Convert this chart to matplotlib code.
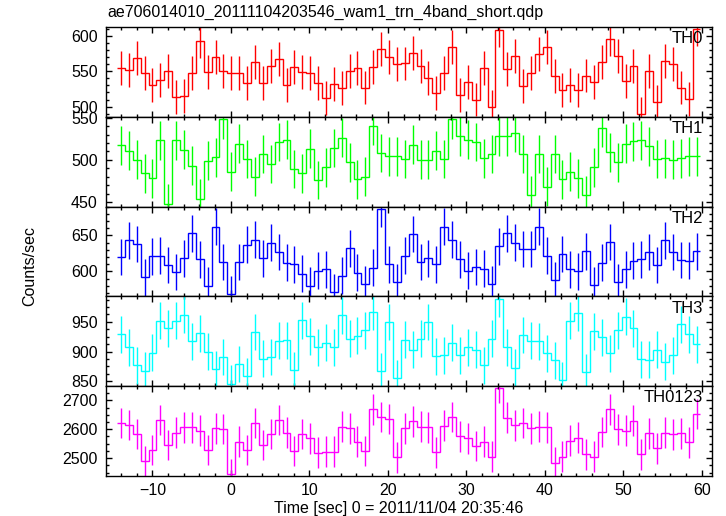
"""
Light curve plot of the WAM 4 band data (TH0..TH3 and their sum),
drawn as stacked step panels with error bars.
"""

import numpy as np
import matplotlib
matplotlib.use('Agg')
import matplotlib.pyplot as plt
from matplotlib.ticker import MultipleLocator

# time axis: bin centres start at -14 s, ~1 s bins
T_START = -14.0
T_STEP = 1.0045

th0 = [555, 552, 569, 547, 531, 537, 550, 514, 515, 547, 593, 549, 570, 550, 547, 547, 533, 563, 533,
       557, 567, 531, 556, 549, 548, 533, 512, 532, 526, 551, 555, 527, 556, 581, 570, 560, 561,
       576, 557, 540, 519, 547, 584, 516, 535, 510, 555, 500, 609, 553, 571, 529, 548, 574, 584,
       543, 524, 530, 523, 544, 535, 563, 595, 572, 536, 558, 489, 551, 507, 565, 560, 527, 511, 610]
th1 = [517, 511, 500, 484, 478, 523, 448, 523, 512, 493, 454, 499, 503, 548, 486, 519, 501, 480, 507,
       495, 521, 524, 489, 484, 513, 476, 491, 514, 526, 497, 477, 480, 540, 508, 504, 504, 501,
       518, 500, 500, 511, 501, 548, 528, 524, 521, 502, 507, 528, 528, 532, 507, 458, 507, 468,
       507, 477, 486, 478, 458, 491, 538, 509, 497, 519, 522, 523, 516, 501, 502, 500, 502, 504, 504]
th2 = [620, 643, 638, 592, 621, 622, 609, 599, 618, 653, 617, 580, 662, 613, 568, 613, 637, 644, 618,
       640, 627, 612, 610, 597, 580, 601, 603, 571, 594, 632, 598, 582, 605, 687, 610, 585, 622,
       652, 613, 618, 610, 662, 644, 617, 601, 606, 604, 582, 635, 653, 640, 631, 631, 662, 622,
       588, 624, 603, 600, 628, 581, 612, 641, 585, 603, 615, 617, 627, 609, 643, 627, 616, 615, 628]
th3 = [929, 907, 877, 868, 898, 952, 939, 952, 962, 917, 931, 900, 870, 891, 846, 879, 858, 933, 888,
       891, 918, 919, 869, 953, 926, 907, 915, 907, 961, 922, 927, 936, 967, 867, 950, 855, 920,
       903, 922, 950, 892, 894, 915, 894, 907, 903, 877, 922, 989, 907, 873, 928, 918, 917, 897,
       885, 852, 952, 965, 865, 934, 924, 897, 936, 959, 939, 887, 886, 903, 883, 894, 946, 929, 912]
th0123 = [2621, 2615, 2584, 2490, 2528, 2632, 2546, 2588, 2607, 2607, 2595, 2528, 2603, 2601, 2444,
          2557, 2528, 2621, 2546, 2584, 2632, 2588, 2525, 2584, 2569, 2519, 2522, 2522, 2609, 2603,
          2557, 2525, 2669, 2642, 2635, 2503, 2603,
          2627, 2609, 2607, 2520, 2612, 2642, 2575, 2569, 2542, 2557, 2505, 2742, 2640, 2613, 2621,
          2603, 2609, 2607, 2484, 2505, 2561, 2571, 2513, 2505, 2590, 2669, 2600, 2595, 2630, 2513,
          2586, 2534, 2588, 2583, 2586, 2555, 2653]

series = [th0, th1, th2, th3, th0123]
errs = [24, 23, 25.5, 31, 53]          # typical 1-sigma error per band
names = ['TH0', 'TH1', 'TH2', 'TH3', 'TH0123']
colors = ['#ff0000', '#00ff00', '#0000ff', '#00ffff', '#ff00ff']
ylims = [(485.5, 612.7), (444.5, 551), (565.3, 690), (841.6, 993), (2438.5, 2748.6)]
major = [50, 50, 50, 50, 100]
minor = [10, 10, 10, 12.5, 25]

TITLE = 'ae706014010_20111104203546_wam1_trn_4band_short.qdp'
XLABEL = 'Time [sec] 0 = 2011/11/04 20:35:46'
YLABEL = 'Counts/sec'


def make_panel(ax, i, t):
    """Draw one band: step line plus vertical error bars."""
    y = np.array(series[i], dtype=float)
    edges = np.append(t - T_STEP / 2, t[-1] + T_STEP / 2)
    ax.stairs(y, edges, baseline=None, color=colors[i], lw=1.0)
    ax.errorbar(t, y, yerr=errs[i], fmt='none', ecolor=colors[i], elinewidth=1.0, capsize=0)
    ax.set_xlim(-15.9, 61.3)
    ax.set_ylim(*ylims[i])
    ax.xaxis.set_major_locator(MultipleLocator(10))
    ax.xaxis.set_minor_locator(MultipleLocator(2))
    ax.yaxis.set_major_locator(MultipleLocator(major[i]))
    ax.yaxis.set_minor_locator(MultipleLocator(minor[i]))
    ax.tick_params(which='both', direction='in', top=True, right=True, labelsize=11.5, width=1)
    ax.tick_params(which='major', length=4.5, pad=5)
    ax.tick_params(which='minor', length=2.2)
    ax.tick_params(axis='y', pad=6)
    for sp in ax.spines.values():
        sp.set_linewidth(1.0)
    if i < 4:
        ax.tick_params(labelbottom=False)
    ax.text(0.985, 0.87, names[i], transform=ax.transAxes, ha='right', va='center', fontsize=12)


def main():
    plt.rcParams['font.family'] = ['Liberation Sans', 'DejaVu Sans']
    fig = plt.figure(figsize=(7.26, 5.16), dpi=100)
    t = T_START + T_STEP * np.arange(len(th0))
    top_px = 27.0
    h_px = 89.8
    for i in range(5):
        bottom = (516 - (top_px + h_px * (i + 1))) / 516
        ax = fig.add_axes([106 / 726, bottom, 606 / 726, h_px / 516])
        make_panel(ax, i, t)
    fig.text(107 / 726, (516 - 12) / 516, TITLE, ha='left', va='center', fontsize=11.5)
    fig.text(398.5 / 726, (516 - 508) / 516, XLABEL, ha='center', va='center', fontsize=11.5)
    fig.text(30 / 726, (516 - 266) / 516, YLABEL, ha='center', va='center', rotation=90, fontsize=11.5)
    fig.savefig('out.png', dpi=100)


main()
